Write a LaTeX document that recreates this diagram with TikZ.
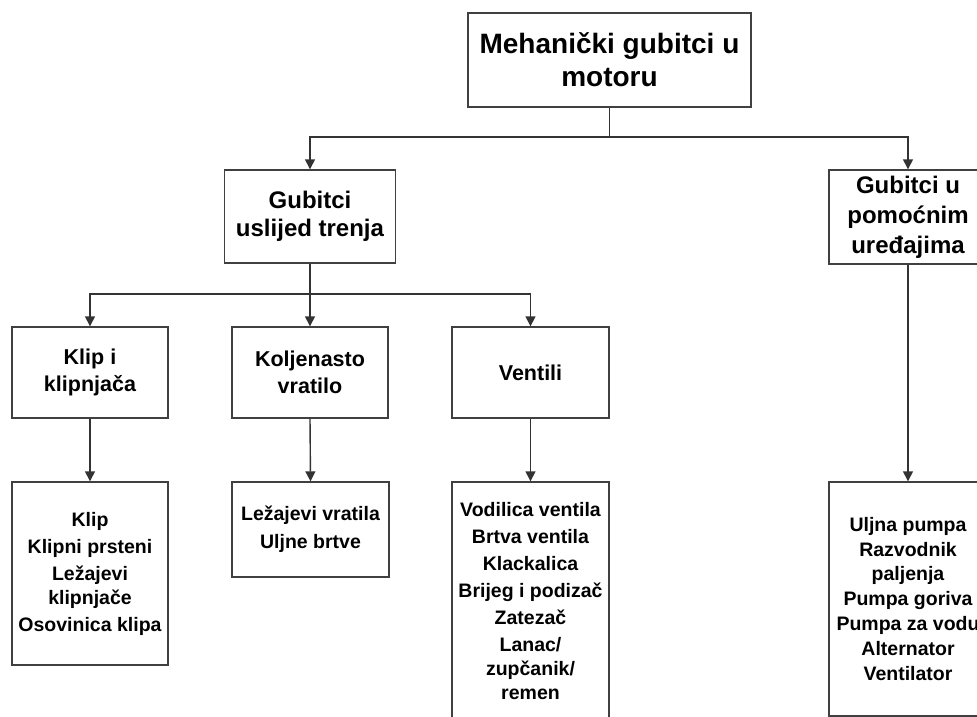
\documentclass[tikz,border=0pt]{standalone}
\usepackage{fontspec}
\setmainfont{Liberation Sans}
\usetikzlibrary{arrows.meta}
\tikzset{
  box/.style={draw=black!75, line width=1.4pt, fill=white, rectangle, align=center,
    inner sep=0pt, font=\bfseries, text=black},
  conn/.style={draw=black!80, line width=1.4pt},
  arr/.style={conn, -{Triangle[width=10pt,length=10pt]}},
  ftop/.style={font=\fontsize{28}{33}\selectfont\bfseries},
  fmid/.style={font=\fontsize{24}{28}\selectfont\bfseries},
  fmidb/.style={font=\fontsize{24}{30}\selectfont\bfseries},
  flow/.style={font=\fontsize{21.5}{27}\selectfont\bfseries},
  flist/.style={font=\fontsize{19.5}{24}\selectfont\bfseries},
}
\begin{document}
\begin{tikzpicture}[x=1pt,y=-1pt]
\fill[white] (0,0) rectangle (977,716);
\useasboundingbox (0,0) rectangle (977,716);

% level 1
\node[box, ftop, minimum width=283pt, minimum height=94pt] (top) at (609.5,60) {Mehanički gubitci u\\motoru};

% level 2
\node[box, fmid, minimum width=171pt, minimum height=93pt] (trenje) at (310,216.5) {Gubitci\\uslijed trenja};
\node[box, fmidb, minimum width=158pt, minimum height=94pt] (pomocni) at (908,217) {Gubitci u\\pomoćnim\\uređajima};

% level 3
\node[box, flow, minimum width=156pt, minimum height=91pt] (klip) at (90,372.5) {Klip i\\klipnjača};
\node[box, flow, minimum width=156pt, minimum height=91pt] (kolj) at (310,372.5) {Koljenasto\\vratilo};
\node[box, flow, minimum width=157pt, minimum height=91pt] (vent) at (530.5,372.5) {Ventili};

% lists
\node[box, flist, minimum width=156pt, minimum height=183pt] (klipL) at (90,573.5)
  {Klip\\[3pt]Klipni prsteni\\[3pt]Ležajevi\\klipnjače\\[3pt]Osovinica klipa};
\node[box, flist, minimum width=157pt, minimum height=95pt] (koljL) at (310.5,529.5)
  {Ležajevi vratila\\[4pt]Uljne brtve};
\node[box, flist, minimum width=157pt, minimum height=239pt] (ventL) at (530.5,601.5)
  {Vodilica ventila\\[3pt]Brtva ventila\\[3pt]Klackalica\\[3pt]Brijeg i podizač\\[3pt]Zatezač\\[3pt]Lanac/\\zupčanik/\\remen};
\node[box, flist, minimum width=158pt, minimum height=234pt] (pomL) at (908,599)
  {Uljna pumpa\\[1pt]Razvodnik\\paljenja\\[1pt]Pumpa goriva\\[1pt]Pumpa za vodu\\[1pt]Alternator\\[1pt]Ventilator};

% connectors
\coordinate (j1) at (609.5,137);
\coordinate (j2) at (310,294);
\draw[conn] (top.south) -- (j1);
\draw[arr] (j1) -| (trenje.north);
\draw[arr] (j1) -| (pomocni.north);
\draw[conn] (trenje.south) -- (j2);
\draw[arr] (j2) -| (klip.north);
\draw[arr] (j2) -- (kolj.north);
\draw[arr] (j2) -| (vent.north);
\draw[arr] (klip.south) -- (klipL.north);
\draw[arr] (kolj.south) -- (koljL.north);
\draw[arr] (vent.south) -- (ventL.north);
\draw[arr] (pomocni.south) -- (pomL.north);
\end{tikzpicture}
\end{document}
